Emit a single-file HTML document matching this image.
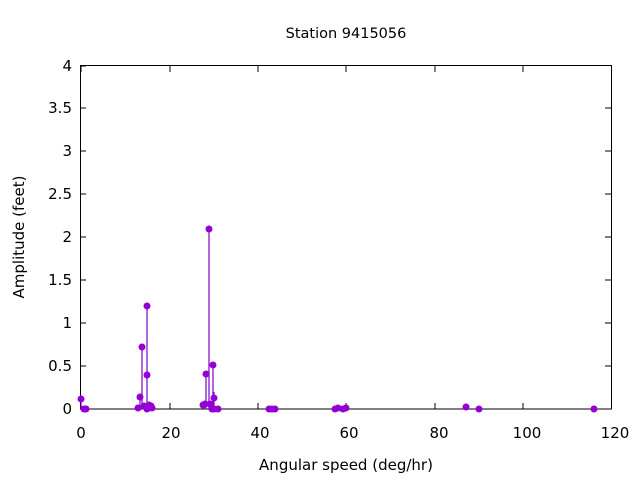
<!DOCTYPE html>
<html><head><meta charset="utf-8"><style>body{margin:0;background:#fff}svg{display:block}</style></head><body>
<svg width="640" height="480" xmlns="http://www.w3.org/2000/svg" font-family="'DejaVu Sans','Liberation Sans',sans-serif" font-size="15">
<rect width="640" height="480" fill="#fff"/>
<text x="346" y="38" text-anchor="middle" font-size="14.5">Station 9415056</text>
<g stroke="#000" stroke-width="1">
<rect x="80.5" y="65.5" width="531" height="343.5" fill="none"/>
<path d="M80 409h6M80 366h6M80 323h6M80 280h6M80 237h6M80 194h6M80 151h6M80 108h6M80 66h6"/>
<path d="M611 366h-6M611 323h-6M611 280h-6M611 237h-6M611 194h-6M611 151h-6M611 108h-6"/>
<path d="M81 409v-6M170 409v-6M258 409v-6M346 409v-6M435 409v-6M523 409v-6M81 66v6M170 66v6M258 66v6M346 66v6M435 66v6M523 66v6"/>
</g>
<g font-size="15" text-anchor="end">
<text x="72" y="414">0</text><text x="72" y="371">0.5</text><text x="72" y="328">1</text><text x="72" y="285">1.5</text><text x="72" y="242">2</text><text x="72" y="199">2.5</text><text x="72" y="156">3</text><text x="72" y="113">3.5</text><text x="72" y="71">4</text>
</g>
<g font-size="15" text-anchor="middle">
<text x="81" y="438">0</text><text x="171" y="438">20</text><text x="260" y="438">40</text><text x="349" y="438">60</text><text x="439" y="438">80</text><text x="527" y="438">100</text><text x="615" y="438">120</text>
</g>
<text x="346" y="470" text-anchor="middle" font-size="15">Angular speed (deg/hr)</text>
<text transform="translate(24,237) rotate(-90)" text-anchor="middle" font-size="15">Amplitude (feet)</text>
<g stroke="#8000c0" stroke-width="1.2">
<path d="M81 409V399M140 409V397M142 409V347M147 409V306M147 409V375M206 409V374M209 409V229M213 409V365M214 409V392"/>
</g>
<g fill="#9400d3">
<circle cx="81" cy="399" r="3.5"/><circle cx="84" cy="409" r="3.5"/><circle cx="86" cy="409" r="3.5"/>
<circle cx="138" cy="408" r="3.5"/><circle cx="140" cy="397" r="3.5"/><circle cx="142" cy="347" r="3.5"/><circle cx="144" cy="406" r="3.5"/><circle cx="147" cy="409" r="3.5"/><circle cx="147" cy="306" r="3.5"/><circle cx="147" cy="375" r="3.5"/><circle cx="149" cy="405" r="3.5"/><circle cx="151" cy="406" r="3.5"/><circle cx="152" cy="408" r="3.5"/>
<circle cx="203" cy="405" r="3.5"/><circle cx="205" cy="404" r="3.5"/><circle cx="206" cy="374" r="3.5"/><circle cx="209" cy="229" r="3.5"/><circle cx="210" cy="404" r="3.5"/><circle cx="213" cy="365" r="3.5"/><circle cx="214" cy="398" r="3.5"/><circle cx="212" cy="409" r="3.5"/><circle cx="214" cy="409" r="3.5"/><circle cx="218" cy="409" r="3.5"/>
<circle cx="269" cy="409" r="3.5"/><circle cx="272" cy="409" r="3.5"/><circle cx="275" cy="409" r="3.5"/>
<circle cx="335" cy="409" r="3.5"/><circle cx="338" cy="408" r="3.5"/><circle cx="343" cy="409" r="3.5"/><circle cx="346" cy="408" r="3.5"/>
<circle cx="466" cy="407" r="3.5"/><circle cx="479" cy="409" r="3.5"/><circle cx="594" cy="409" r="3.5"/>
</g>
</svg>
</body></html>
